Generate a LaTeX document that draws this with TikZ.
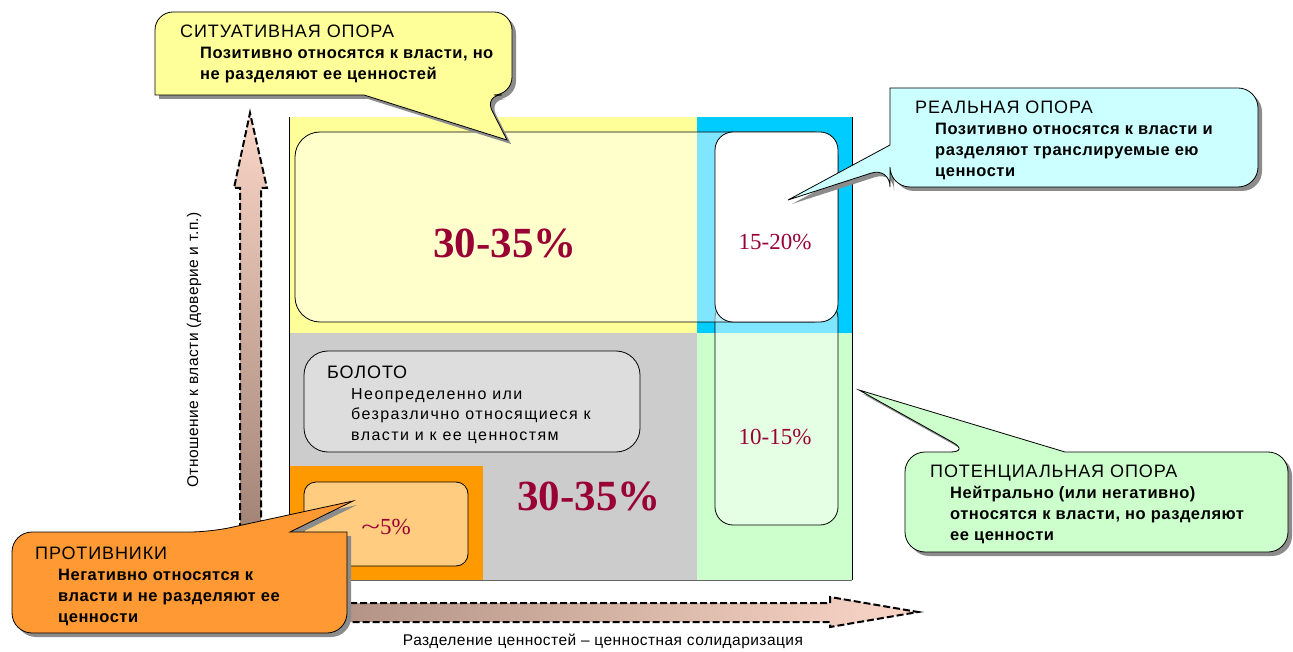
\documentclass[tikz,border=0pt]{standalone}
\usepackage{fontspec}
\setmainfont{Liberation Sans}
\newfontfamily\pctfont{Liberation Serif}
\newfontfamily\titlefont[LetterSpace=5]{Liberation Sans}
\newfontfamily\bodyfont[LetterSpace=3]{Liberation Sans}
\newfontfamily\swampfont[LetterSpace=9]{Liberation Sans}
\newfontfamily\axisfont[LetterSpace=3]{Liberation Sans}
\usetikzlibrary{shadows}
\definecolor{zoneyellow}{HTML}{FFFF99}
\definecolor{zoneblue}{HTML}{00CCFF}
\definecolor{zonegray}{HTML}{CCCCCC}
\definecolor{zoneorange}{HTML}{FF9900}
\definecolor{zonegreen}{HTML}{CCFFCC}
\definecolor{callcyan}{HTML}{CCFFFF}
\definecolor{callorange}{HTML}{FF9933}
\definecolor{swampgray}{HTML}{DDDDDD}
\definecolor{pctred}{HTML}{990033}
\definecolor{arrowdark}{HTML}{A08274}
\definecolor{arrowlight}{HTML}{FAD6C8}
\newcommand{\calltitle}[1]{{\titlefont\fontsize{18}{21}\selectfont #1}}
\newcommand{\callline}[2][20pt]{\hspace*{#1}{\bodyfont\bfseries #2}}
\tikzset{
	inner box/.style={draw=black, line width=0.8pt, fill=white, fill opacity=0.5},
	callout/.style={draw=black, line width=0.8pt,
		drop shadow={shadow xshift=4pt, shadow yshift=-4pt, fill=black!45, opacity=1}},
	callout text/.style={anchor=north west, align=left, inner sep=0pt,
		font=\fontsize{16.5}{21}\selectfont},
	pct/.style={text=pctred, font=\pctfont\fontsize{23}{23}\selectfont},
	big pct/.style={text=pctred, font=\pctfont\bfseries\fontsize{43}{43}\selectfont},
	axis arrow/.style={draw=black, line width=2pt, dash pattern=on 7pt off 3pt},
	axis label/.style={font=\axisfont\fontsize{15.5}{15.5}\selectfont, inner sep=0pt}
}

\begin{document}
\begin{tikzpicture}[x=1pt, y=-1pt]
	\useasboundingbox (0,0) rectangle (1293,652);
	\fill[white] (0,0) rectangle (1293,652);

	% zones of the field
	\fill[zoneyellow] (289,117) rectangle (697,333);
	\fill[zoneblue] (697,117) rectangle (852,333);
	\fill[zonegray] (289,333) rectangle (697,580);
	\fill[zoneorange] (289,466) rectangle (483,580);
	\fill[zonegreen] (697,333) rectangle (852,580);
	\draw[line width=0.8pt] (289,117) -- (289,580);
	\draw[line width=0.8pt] (852,117) -- (852,580);
	\draw[black!60] (289,580) -- (852,580);

	% inner groups
	\path[inner box, rounded corners=18pt] (715,300) rectangle (838,525);
	\path[inner box, rounded corners=25pt] (295,132) rectangle (838,322);
	\path[inner box, fill opacity=1, rounded corners=18pt] (715,132) rectangle (838,322);
	\path[inner box, fill opacity=1, fill=swampgray, rounded corners=24pt] (304,351) rectangle (640,452);
	\path[inner box, rounded corners=12pt] (304,482) rectangle (468,566);

	\node[big pct] (pctsit) at (505,243) {30-35\%};
	\node[big pct] (pctswamp) at (589,496) {30-35\%};
	\node[pct] (pctreal) at (775,242) {15-20\%};
	\node[pct] (pctpot) at (775,437) {10-15\%};
	\node[pct] (pctopp) at (386,527) {\scalebox{1.5}[1]{\textasciitilde}5\%};

	\node[callout text, font=\swampfont\fontsize{16}{20.5}\selectfont] (swamptext) at (327,366) {\calltitle{БОЛОТО}\\
		\hspace*{24pt}Неопределенно или\\
		\hspace*{24pt}безразлично относящиеся к\\
		\hspace*{24pt}власти и к ее ценностям};

	% axes
	\path[axis arrow, bottom color=arrowdark, top color=arrowlight]
		(240,540) -- (240,188) -- (234,188) -- (250,113) -- (267,188) -- (261,188) -- (261,540) -- cycle;
	\path[axis arrow, left color=arrowdark!80!arrowlight, right color=arrowlight]
		(340,603) -- (830,603) -- (830,597) -- (918,612) -- (830,627) -- (830,622) -- (340,622) -- cycle;
	\node[axis label, rotate=90, font=\axisfont\fontsize{15.5}{15.5}\selectfont] (ylabel) at (194,350) {Отношение к власти (доверие и т.п.)};
	\node[axis label] (xlabel) at (603,641) {Разделение ценностей – ценностная солидаризация};

	% callouts
	\path[callout, fill=zoneyellow, rounded corners=18pt]
		(333,12) -- (512,12) -- (512,95) -- (484,95) [sharp corners] -- (507,140) -- (364,95)
		-- (155,95) [rounded corners=18pt] -- (155,12) -- cycle;
	\node[callout text] (sittext) at (180,25) {\calltitle{СИТУАТИВНАЯ ОПОРА}\\
		\callline{Позитивно относятся к власти, но}\\
		\callline{не разделяют ее ценностей}};

	\path[callout, fill=callcyan, rounded corners=20pt]
		(1074,88) -- (1258,88) -- (1258,187) -- (890,187) -- (890,167) [sharp corners] -- (788,200)
		-- (890,145) -- (890,88) [rounded corners=20pt] -- cycle;
	\node[callout text] (realtext) at (915,101) {\calltitle{РЕАЛЬНАЯ ОПОРА}\\
		\callline{Позитивно относятся к власти и}\\
		\callline{разделяют транслируемые ею}\\
		\callline{ценности}};

	\path[callout, fill=zonegreen, rounded corners=20pt]
		(1100,452) -- (1288,452) -- (1288,552) -- (905,552) -- (905,452) -- (970,452) [sharp corners]
		-- (859,390) -- (1065,452) [rounded corners=20pt] -- cycle;
	\node[callout text] (pottext) at (930,465) {\calltitle{ПОТЕНЦИАЛЬНАЯ ОПОРА}\\
		\callline{Нейтрально (или негативно)}\\
		\callline{относятся к власти, но разделяют}\\
		\callline{ее ценности}};

	\path[callout, fill=callorange, rounded corners=20pt]
		(12,582) -- (12,532) -- (210,532) [sharp corners] -- (353,501) -- (290,532)
		-- (347,532) [rounded corners=20pt] -- (347,633) -- (12,633) -- cycle;
	\node[callout text] (opptext) at (35,547) {\calltitle{ПРОТИВНИКИ}\\
		\callline[23pt]{Негативно относятся к}\\
		\callline[23pt]{власти и не разделяют ее}\\
		\callline[23pt]{ценности}};
\end{tikzpicture}
\end{document}
